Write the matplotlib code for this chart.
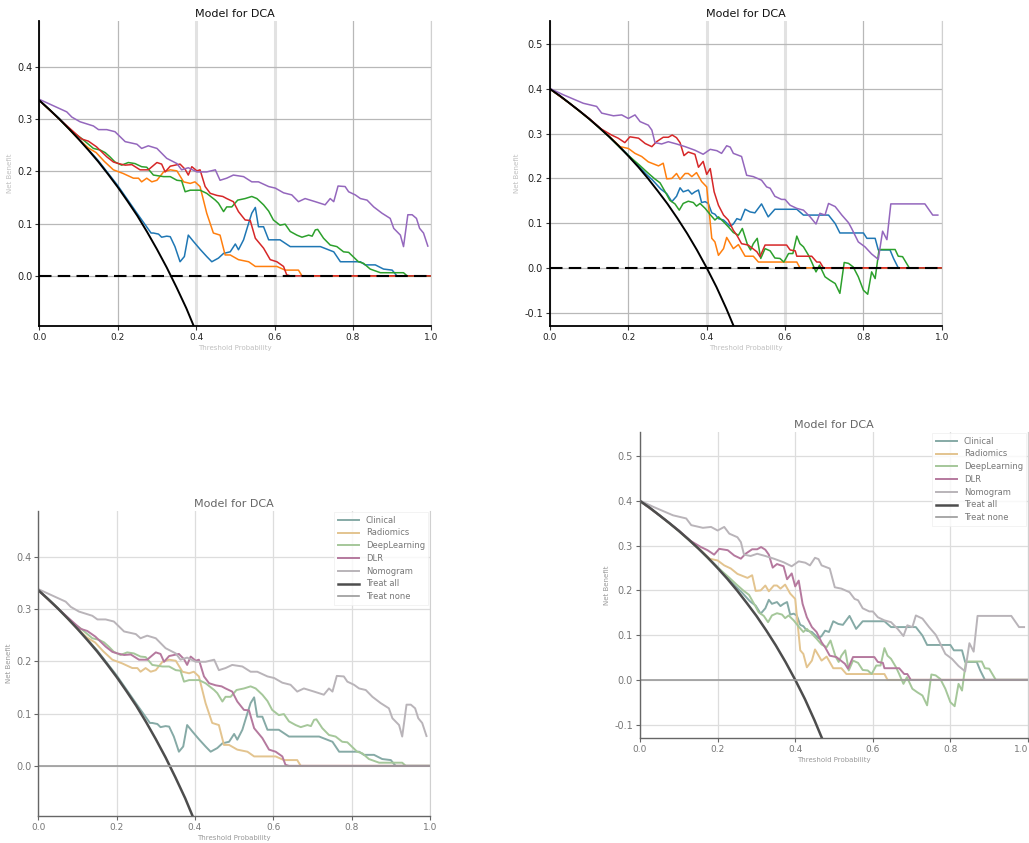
import matplotlib
matplotlib.use("Agg")
import matplotlib.pyplot as plt

# ---- data (left cohort, prevalence ~0.336) ----
ta_x = [0, 0.025, 0.05, 0.075, 0.1, 0.125, 0.15, 0.175, 0.2, 0.225, 0.25,
        0.275, 0.3, 0.325, 0.35, 0.375, 0.4, 0.425, 0.45, 0.475, 0.5]
ta_L = [0.336, 0.319, 0.301, 0.282, 0.262, 0.241, 0.219, 0.195, 0.170, 0.143, 0.115,
        0.084, 0.051, 0.016, -0.022, -0.062, -0.107, -0.155, -0.207, -0.264, -0.328]

clin_L_x = [0, 0.05, 0.1, 0.15, 0.2, 0.25, 0.285, 0.291, 0.304, 0.312, 0.325, 0.334, 0.346,
            0.359, 0.370, 0.380, 0.393, 0.410, 0.427, 0.440, 0.457, 0.470, 0.487, 0.500,
            0.508, 0.521, 0.534, 0.542, 0.551, 0.559, 0.572, 0.585, 0.614, 0.640, 0.717,
            0.751, 0.768, 0.819, 0.831, 0.857, 0.878, 0.900, 0.912, 1.0]
clin_L_y = [0.336, 0.302, 0.263, 0.221, 0.173, 0.119, 0.082, 0.082, 0.080, 0.074, 0.076,
            0.075, 0.056, 0.027, 0.037, 0.078, 0.066, 0.051, 0.037, 0.027, 0.034, 0.043,
            0.046, 0.061, 0.050, 0.069, 0.101, 0.120, 0.131, 0.094, 0.094, 0.069, 0.069,
            0.056, 0.056, 0.046, 0.027, 0.027, 0.021, 0.021, 0.013, 0.011, 0.0, 0.0]

rad_L_x = [0, 0.05, 0.1, 0.125, 0.145, 0.166, 0.189, 0.214, 0.240, 0.253, 0.261, 0.274,
           0.287, 0.300, 0.317, 0.334, 0.351, 0.368, 0.385, 0.397, 0.410, 0.427, 0.444,
           0.461, 0.474, 0.487, 0.508, 0.534, 0.551, 0.606, 0.627, 0.661, 0.670, 1.0]
rad_L_y = [0.336, 0.301, 0.262, 0.245, 0.236, 0.219, 0.203, 0.196, 0.187, 0.187, 0.180,
           0.187, 0.180, 0.183, 0.199, 0.203, 0.201, 0.180, 0.177, 0.180, 0.171, 0.120,
           0.082, 0.078, 0.040, 0.040, 0.031, 0.027, 0.018, 0.018, 0.011, 0.011, 0.0, 0.0]

dl_L_x = [0, 0.05, 0.083, 0.108, 0.138, 0.155, 0.168, 0.180, 0.193, 0.210, 0.227, 0.244,
          0.261, 0.274, 0.291, 0.317, 0.334, 0.351, 0.363, 0.372, 0.385, 0.410, 0.427,
          0.449, 0.457, 0.470, 0.478, 0.491, 0.506, 0.525, 0.542, 0.555, 0.572, 0.585,
          0.597, 0.614, 0.627, 0.640, 0.657, 0.670, 0.687, 0.696, 0.704, 0.710, 0.725,
          0.742, 0.759, 0.776, 0.789, 0.814, 0.827, 0.844, 0.870, 0.929, 0.938, 1.0]
dl_L_y = [0.336, 0.301, 0.276, 0.263, 0.244, 0.241, 0.236, 0.228, 0.218, 0.212, 0.217,
          0.215, 0.209, 0.208, 0.193, 0.190, 0.190, 0.183, 0.182, 0.161, 0.164, 0.164,
          0.158, 0.145, 0.139, 0.123, 0.132, 0.132, 0.145, 0.148, 0.152, 0.148, 0.136,
          0.124, 0.107, 0.097, 0.099, 0.085, 0.078, 0.074, 0.078, 0.076, 0.088, 0.089,
          0.072, 0.059, 0.056, 0.046, 0.045, 0.027, 0.024, 0.013, 0.006, 0.006, 0.0, 0.0]

dlr_L_x = [0, 0.05, 0.108, 0.125, 0.146, 0.172, 0.189, 0.202, 0.219, 0.236, 0.257, 0.278,
           0.300, 0.312, 0.321, 0.334, 0.359, 0.372, 0.380, 0.389, 0.402, 0.410, 0.423,
           0.436, 0.453, 0.468, 0.478, 0.495, 0.508, 0.525, 0.538, 0.551, 0.572, 0.589,
           0.606, 0.623, 0.631, 0.640, 1.0]
dlr_L_y = [0.336, 0.301, 0.262, 0.258, 0.247, 0.228, 0.218, 0.215, 0.212, 0.213, 0.203,
           0.203, 0.217, 0.214, 0.199, 0.210, 0.214, 0.204, 0.193, 0.209, 0.201, 0.203,
           0.171, 0.158, 0.154, 0.152, 0.148, 0.142, 0.123, 0.107, 0.106, 0.072, 0.053,
           0.031, 0.027, 0.018, 0.002, 0.0, 0.0]

nomo_L_x = [0, 0.07, 0.083, 0.104, 0.138, 0.151, 0.172, 0.193, 0.219, 0.249, 0.261, 0.278,
            0.300, 0.325, 0.351, 0.363, 0.380, 0.402, 0.427, 0.449, 0.461, 0.478, 0.495,
            0.521, 0.542, 0.559, 0.585, 0.602, 0.623, 0.644, 0.661, 0.678, 0.704, 0.729,
            0.742, 0.751, 0.762, 0.780, 0.789, 0.806, 0.819, 0.836, 0.853, 0.874, 0.895,
            0.904, 0.921, 0.929, 0.940, 0.951, 0.962, 0.970, 0.980, 0.991]
nomo_L_y = [0.338, 0.314, 0.304, 0.295, 0.287, 0.280, 0.280, 0.276, 0.257, 0.252, 0.244,
            0.249, 0.244, 0.225, 0.215, 0.203, 0.207, 0.199, 0.199, 0.203, 0.183, 0.187,
            0.193, 0.190, 0.180, 0.180, 0.171, 0.168, 0.159, 0.155, 0.142, 0.148, 0.142,
            0.136, 0.148, 0.142, 0.172, 0.171, 0.161, 0.155, 0.148, 0.145, 0.132, 0.120,
            0.110, 0.091, 0.078, 0.056, 0.117, 0.117, 0.110, 0.091, 0.082, 0.057]

# ---- right cohort, prevalence ~0.40 ----
ta_R = [0.400, 0.385, 0.368, 0.351, 0.333, 0.314, 0.294, 0.273, 0.250, 0.226, 0.200,
        0.172, 0.143, 0.111, 0.077, 0.040, 0.000, -0.043, -0.091, -0.143, -0.200]

clin_R_x = [0, 0.05, 0.1, 0.15, 0.2, 0.245, 0.262, 0.283, 0.298, 0.311, 0.323, 0.332,
            0.340, 0.353, 0.362, 0.370, 0.379, 0.387, 0.396, 0.404, 0.413, 0.421, 0.430,
            0.443, 0.460, 0.468, 0.477, 0.487, 0.498, 0.511, 0.523, 0.540, 0.557, 0.574,
            0.630, 0.647, 0.711, 0.728, 0.740, 0.800, 0.809, 0.830, 0.838, 0.868, 0.877,
            0.889, 1.0]
clin_R_y = [0.400, 0.368, 0.334, 0.295, 0.252, 0.210, 0.196, 0.176, 0.166, 0.148, 0.160,
            0.179, 0.170, 0.174, 0.165, 0.170, 0.174, 0.146, 0.148, 0.144, 0.123, 0.120,
            0.110, 0.107, 0.093, 0.098, 0.110, 0.107, 0.131, 0.125, 0.123, 0.143, 0.114,
            0.131, 0.131, 0.118, 0.118, 0.099, 0.078, 0.078, 0.066, 0.066, 0.040, 0.040,
            0.021, 0.0, 0.0]

rad_R_x = [0, 0.05, 0.1, 0.15, 0.179, 0.200, 0.217, 0.234, 0.251, 0.277, 0.289, 0.298,
           0.311, 0.323, 0.332, 0.345, 0.353, 0.362, 0.374, 0.387, 0.400, 0.413, 0.421,
           0.430, 0.443, 0.451, 0.468, 0.481, 0.498, 0.519, 0.532, 0.630, 0.638, 1.0]
rad_R_y = [0.400, 0.368, 0.333, 0.295, 0.271, 0.267, 0.256, 0.249, 0.237, 0.228, 0.234,
           0.199, 0.200, 0.211, 0.198, 0.211, 0.211, 0.204, 0.213, 0.193, 0.181, 0.066,
           0.058, 0.028, 0.043, 0.068, 0.043, 0.052, 0.026, 0.026, 0.013, 0.013, 0.0, 0.0]

dl_R_x = [0, 0.05, 0.1, 0.15, 0.177, 0.207, 0.228, 0.249, 0.266, 0.281, 0.294, 0.306,
          0.319, 0.330, 0.340, 0.353, 0.366, 0.374, 0.383, 0.396, 0.409, 0.421, 0.430,
          0.443, 0.455, 0.468, 0.481, 0.491, 0.504, 0.512, 0.519, 0.529, 0.538, 0.549,
          0.562, 0.574, 0.587, 0.597, 0.609, 0.620, 0.630, 0.638, 0.647, 0.660, 0.668,
          0.679, 0.688, 0.702, 0.715, 0.728, 0.740, 0.751, 0.762, 0.774, 0.787, 0.800,
          0.811, 0.821, 0.830, 0.840, 0.881, 0.889, 0.900, 0.917, 1.0]
dl_R_y = [0.400, 0.368, 0.333, 0.294, 0.270, 0.246, 0.230, 0.213, 0.200, 0.190, 0.170,
          0.151, 0.143, 0.129, 0.144, 0.149, 0.146, 0.138, 0.144, 0.133, 0.119, 0.107,
          0.114, 0.103, 0.092, 0.079, 0.073, 0.088, 0.052, 0.040, 0.054, 0.066, 0.021,
          0.043, 0.038, 0.022, 0.021, 0.013, 0.032, 0.032, 0.071, 0.054, 0.047, 0.028,
          0.013, -0.009, 0.006, -0.020, -0.028, -0.035, -0.057, 0.012, 0.010, 0.002,
          -0.020, -0.050, -0.059, -0.009, -0.024, 0.041, 0.041, 0.026, 0.025, 0.0, 0.0]

dlr_R_x = [0, 0.05, 0.1, 0.13, 0.157, 0.174, 0.191, 0.204, 0.226, 0.243, 0.260, 0.272,
           0.289, 0.302, 0.312, 0.323, 0.332, 0.342, 0.353, 0.370, 0.379, 0.391, 0.400,
           0.409, 0.419, 0.430, 0.443, 0.455, 0.468, 0.477, 0.489, 0.506, 0.528, 0.536,
           0.549, 0.604, 0.613, 0.626, 0.630, 0.668, 0.681, 0.689, 0.698, 1.0]
dlr_R_y = [0.400, 0.368, 0.334, 0.311, 0.297, 0.290, 0.280, 0.293, 0.290, 0.278, 0.271,
           0.282, 0.292, 0.292, 0.297, 0.291, 0.280, 0.251, 0.259, 0.254, 0.225, 0.238,
           0.209, 0.222, 0.170, 0.140, 0.118, 0.107, 0.084, 0.073, 0.054, 0.051, 0.036,
           0.025, 0.051, 0.051, 0.040, 0.038, 0.026, 0.026, 0.013, 0.013, 0.0, 0.0]

nomo_R_x = [0, 0.034, 0.085, 0.119, 0.132, 0.162, 0.183, 0.200, 0.217, 0.230, 0.251,
            0.260, 0.268, 0.285, 0.302, 0.323, 0.345, 0.370, 0.391, 0.409, 0.426, 0.438,
            0.451, 0.460, 0.468, 0.489, 0.502, 0.519, 0.540, 0.553, 0.562, 0.574, 0.591,
            0.600, 0.613, 0.630, 0.647, 0.664, 0.679, 0.689, 0.702, 0.711, 0.728, 0.745,
            0.762, 0.770, 0.787, 0.804, 0.821, 0.838, 0.849, 0.860, 0.870, 0.957, 0.977,
            0.990]
nomo_R_y = [0.401, 0.387, 0.368, 0.361, 0.346, 0.340, 0.342, 0.334, 0.342, 0.327, 0.319,
            0.308, 0.280, 0.277, 0.282, 0.277, 0.271, 0.263, 0.254, 0.265, 0.262, 0.256,
            0.273, 0.270, 0.256, 0.249, 0.207, 0.204, 0.196, 0.181, 0.178, 0.160, 0.153,
            0.153, 0.140, 0.133, 0.129, 0.114, 0.098, 0.122, 0.118, 0.144, 0.137, 0.118,
            0.101, 0.088, 0.058, 0.047, 0.031, 0.019, 0.082, 0.063, 0.143, 0.143, 0.118,
            0.118]

labels = ["Clinical", "Radiomics", "DeepLearning", "DLR", "Nomogram", "Treat all", "Treat none"]
xticks = [0.0, 0.2, 0.4, 0.6, 0.8, 1.0]

left_data = [(clin_L_x, clin_L_y), (rad_L_x, rad_L_y), (dl_L_x, dl_L_y),
             (dlr_L_x, dlr_L_y), (nomo_L_x, nomo_L_y), (ta_x, ta_L)]
right_data = [(clin_R_x, clin_R_y), (rad_R_x, rad_R_y), (dl_R_x, dl_R_y),
              (dlr_R_x, dlr_R_y), (nomo_R_x, nomo_R_y), (ta_x, ta_R)]

crisp_colors = ["#1f77b4", "#ff7f0e", "#2ca02c", "#d62728", "#9467bd", "black"]
faded_colors = ["#86aaa6", "#e3c48f", "#a5c79a", "#b5799e", "#b9b4b9", "#4d4d4d"]


def draw_panel(ax, data, ylim, yticks, faded=False):
    colors = faded_colors if faded else crisp_colors
    for (x, y), c, lab in zip(data, colors, labels):
        lw = 1.4 if faded else 1.1
        if lab == "Treat all":
            lw = 1.8 if faded else 1.4
        ax.plot(x, y, color=c, linewidth=lw, label=lab)
    if faded:
        ax.plot([0, 1], [0, 0], color="#9a9a9a", linewidth=1.2, label="Treat none")
    else:
        ax.plot([0, 1], [0, 0], color="black", linewidth=1.5, linestyle=(0, (6, 3)),
                label="Treat none")

    ax.set_xlim(0, 1)
    ax.set_ylim(*ylim)
    ax.set_xticks(xticks)
    ax.set_yticks(yticks)
    txt = "#777777" if faded else "#222222"
    ax.set_xticklabels([f"{v:.1f}" for v in xticks], fontsize=6.5,
                       color="#888888" if faded else "#555555")
    ax.set_yticklabels([f"{v:.1f}" for v in yticks], fontsize=7, color=txt)
    ax.tick_params(length=3, width=0.8, pad=2, colors="#666666" if faded else "#333333",
                   labelcolor=txt)
    ax.grid(True, color="#dddddd" if faded else "#b8b8b8", linewidth=0.9)
    ax.set_axisbelow(True)
    if not faded:
        # the 0.4 and 0.6 verticals look wider and paler in the reference
        for i in (2, 3):
            g = ax.get_xgridlines()[i]
            g.set_linewidth(2.2)
            g.set_color("#e2e2e2")

    ax.set_title("Model for DCA", fontsize=8, color="#666666" if faded else "#111111", pad=3)
    ax.set_xlabel("Threshold Probability", fontsize=5, color="#999999" if faded else "#c0c0c0",
                  labelpad=2)
    ax.set_ylabel("Net Benefit", fontsize=5, color="#999999" if faded else "#c0c0c0",
                  labelpad=3)

    ax.spines["top"].set_visible(False)
    ax.spines["right"].set_color("#d0d0d0")
    for side in ["left", "bottom"]:
        ax.spines[side].set_color("#666666" if faded else "black")
        ax.spines[side].set_linewidth(1.0 if faded else 1.3)

    if faded:
        leg = ax.legend(loc="upper right", fontsize=6, frameon=True, borderaxespad=0.2,
                        handlelength=2.6, labelspacing=0.45, fancybox=False)
        leg.get_frame().set_edgecolor("#eeeeee")
        leg.get_frame().set_linewidth(0.6)
        for t in leg.get_texts():
            t.set_color("#777777")


fig = plt.figure(figsize=(10.29, 8.43), dpi=100)

ax1 = fig.add_axes([0.0382, 0.6133, 0.381, 0.3618])
draw_panel(ax1, left_data, (-0.096, 0.488), [0.0, 0.1, 0.2, 0.3, 0.4])

ax2 = fig.add_axes([0.5345, 0.6133, 0.3807, 0.3618])
draw_panel(ax2, right_data, (-0.130, 0.552), [-0.1, 0.0, 0.1, 0.2, 0.3, 0.4, 0.5])

ax3 = fig.add_axes([0.0372, 0.0320, 0.3807, 0.3622])
draw_panel(ax3, left_data, (-0.096, 0.488), [0.0, 0.1, 0.2, 0.3, 0.4], faded=True)

# this panel runs into the right edge of the picture, as in the reference
ax4 = fig.add_axes([0.6220, 0.1246, 0.3770, 0.3633])
draw_panel(ax4, right_data, (-0.130, 0.555), [-0.1, 0.0, 0.1, 0.2, 0.3, 0.4, 0.5], faded=True)
ax4.get_xticklabels()[-1].set_horizontalalignment("right")

fig.savefig("out.png", dpi=100)
